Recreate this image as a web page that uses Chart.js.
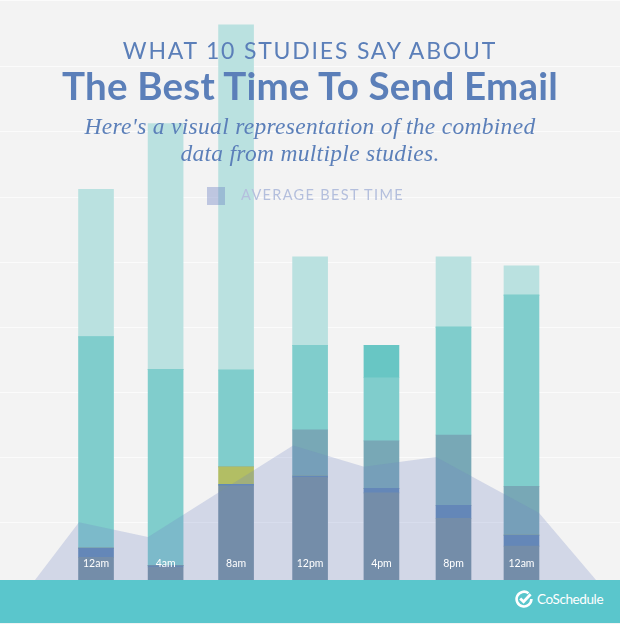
<!DOCTYPE html>
<html>
<head>
<meta charset="utf-8">
<script src="https://cdn.jsdelivr.net/npm/chart.js@4"></script>
<style>
  html, body { margin: 0; padding: 0; background: #f3f3f3; }
  #wrap { position: relative; width: 620px; height: 624px; overflow: hidden; background: #f3f3f3; }
  #myChart { position: absolute; left: 0; top: 0; }
  .txt { position: absolute; left: 0; width: 620px; text-align: center; color: #5b7fb9; white-space: nowrap; }
  #kicker { top: 36px; font: 400 23px/28px Lato, sans-serif; letter-spacing: 1.8px; }
  #title { top: 63px; font: 700 38.5px/44px Lato, sans-serif; letter-spacing: 0.2px; }
  #sub { top: 113px; font: italic 400 23.5px/27px "Liberation Serif", serif; letter-spacing: 0.3px; }
  #swatch { position: absolute; left: 207px; top: 187px; width: 18px; height: 18px; background: rgba(111, 131, 196, 0.4); }
  #legendText { position: absolute; left: 241px; top: 186px; font: 400 14.5px/18px Lato, sans-serif; letter-spacing: 1.35px; color: #b4bfdd; white-space: nowrap; }
  #footer { position: absolute; left: 0; top: 580px; width: 620px; height: 43px; background: #5ac6cc; }
  #logo { position: absolute; left: 515px; top: 10px; }
  #brand { position: absolute; left: 537px; top: 9px; font: 400 13.5px/20px Lato, sans-serif; letter-spacing: -0.4px; color: #fff; }
</style>
</head>
<body>
<div id="wrap">
  <canvas id="myChart" width="620" height="580"></canvas>
  <div class="txt" id="kicker">WHAT 10 STUDIES SAY ABOUT</div>
  <div class="txt" id="title">The Best Time To Send Email</div>
  <div class="txt" id="sub">Here's a visual representation of the combined<br>data from multiple studies.</div>
  <div id="swatch"></div>
  <div id="legendText">AVERAGE BEST TIME</div>
  <div id="footer">
    <svg id="logo" width="18" height="18" viewBox="0 0 18 18">
      <path d="M13.5 3.2A7.4 7.4 0 1 0 16.4 9" fill="none" stroke="#fff" stroke-width="2.6"/>
      <path d="M5.2 8.4l3.4 3.4 7-7.6" fill="none" stroke="#fff" stroke-width="2.8"/>
    </svg>
    <div id="brand">CoSchedule</div>
  </div>
</div>
<script>
'use strict'
// 막대 위치 (시간), 눈금 이름
const barHours = [0, 3.92, 7.89, 12.06, 16.08, 20.14, 23.97];
const hourLabels = ['12am', '4am', '8am', '12pm', '4pm', '8pm', '12am'];

// 막대 조각 (아래에서 위로)
const navy = [0.46, 0.31, 1.56, 1.69, 1.45, 1.06, 0.63];
const blue = [0.14, 0.02, 0.02, 0.02, 0.07, 0.20, 0.17];
const olive = [0, 0, 0.27, 0, 0, 0, 0];
const slate = [0, 0, 0, 0.71, 0.73, 1.08, 0.75];
const midTeal = [3.25, 3.02, 1.49, 1.30, 0.97, 1.66, 2.94];
const darkTeal = [0, 0, 0, 0, 0.50, 0, 0];
const lightTeal = [2.27, 3.78, 5.31, 1.36, 0, 1.08, 0.45];

// 평균 영역 (Average best time)
const avgHours = [-3.44, -0.96, 2.93, 11.1, 15.1, 19.15, 24.96, 28.17];
const avgValues = [0.11, 1.0, 0.77, 2.18, 1.85, 2.0, 1.14, 0.11];

function barSet(label, values, color) {
  return {
    label: label,
    stack: 'bars',
    data: values.map((v, i) => ({ x: barHours[i], y: v })),
    backgroundColor: color,
    borderWidth: 0,
    barThickness: 35
  };
}

const ctx = document.getElementById('myChart').getContext('2d');
new Chart(ctx, {
  type: 'bar',
  data: {
    datasets: [
      barSet('navy', navy, 'rgb(118, 144, 161)'),
      barSet('blue', blue, 'rgb(96, 136, 181)'),
      barSet('olive', olive, 'rgb(178, 190, 100)'),
      barSet('slate', slate, 'rgb(120, 168, 182)'),
      barSet('mid', midTeal, 'rgb(128, 205, 204)'),
      barSet('dark', darkTeal, 'rgb(104, 198, 196)'),
      barSet('light', lightTeal, 'rgb(186, 225, 224)'),
      {
        type: 'line',
        label: 'Average best time',
        stack: 'avg',
        order: -1,
        data: avgValues.map((v, i) => ({ x: avgHours[i], y: v })),
        fill: 'origin',
        backgroundColor: 'rgba(111, 131, 196, 0.25)',
        borderWidth: 0,
        pointRadius: 0,
        tension: 0
      }
    ]
  },
  options: {
    responsive: false,
    animation: false,
    layout: { padding: 0 },
    plugins: { legend: { display: false }, tooltip: { enabled: false } },
    scales: {
      x: {
        type: 'linear',
        stacked: true,
        offset: false,
        min: -5.41,
        max: 29.52,
        grid: { display: false, offset: false },
        border: { display: false },
        afterBuildTicks: (scale) => { scale.ticks = barHours.map(v => ({ value: v })); },
        afterFit: (scale) => { scale.height = 0; },
        ticks: {
          z: 1,
          mirror: true,
          padding: 10,
          autoSkip: false,
          maxRotation: 0,
          color: '#ffffff',
          font: { family: 'Lato', size: 10.5 },
          callback: (value, index) => hourLabels[index]
        }
      },
      y: {
        stacked: true,
        min: 0.11,
        max: 9.03,
        display: true,
        border: { display: false },
        grid: { color: '#fbfbfb', lineWidth: 1, drawTicks: false },
        ticks: { display: false, stepSize: 1 },
        afterFit: (scale) => { scale.width = 0; }
      }
    }
  }
});
</script>
</body>
</html>
